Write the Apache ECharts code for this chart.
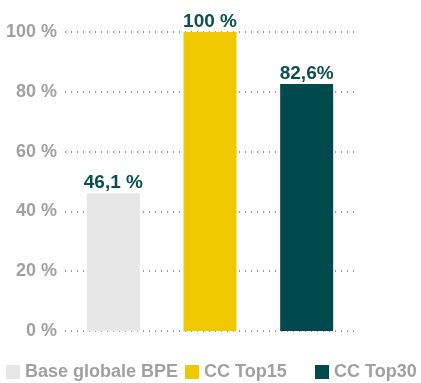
<!DOCTYPE html>
<html><head><meta charset="utf-8">
<script src="https://cdn.jsdelivr.net/npm/echarts@6/dist/echarts.min.js"></script>
<style>html,body{margin:0;padding:0;background:#fff}#c{width:421px;height:383px}</style>
</head><body><div id="c"></div>
<script>
var categories = ['Base globale BPE', 'CC Top15', 'CC Top30'];
var values = [46.1, 100, 82.6];
var labels = ['46,1 %', '100 %', '82,6%'];
var colors = ['#e6e6e6', '#f0c800', '#004a4d'];
var yTicks = [0, 20, 40, 60, 80, 100];

var series = categories.map(function (name, i) {
  var d = categories.map(function (_, j) { return j === i ? values[i] : '-'; });
  return {
    name: name, type: 'bar', data: d, barWidth: 53, barGap: '-100%',
    itemStyle: { color: colors[i] },
    label: {
      show: true, position: 'top', distance: 1,
      formatter: function () { return labels[i]; },
      color: '#0b4f50', fontFamily: 'Liberation Sans', fontWeight: 'bold', fontSize: 19
    }
  };
});

var legendLefts = [1, 180, 310];
var legends = categories.map(function (name, i) {
  return {
    top: 358, left: legendLefts[i], itemWidth: 14, itemHeight: 14, icon: 'rect',
    selectedMode: false,
    textStyle: { color: '#a0a0a0', fontFamily: 'Liberation Sans', fontWeight: 'bold', fontSize: 18 },
    data: [name]
  };
});

var chart = echarts.init(document.getElementById('c'));
chart.setOption({
  animation: false,
  grid: { left: 65, right: 66, top: 32, bottom: 52, containLabel: false },
  legend: legends,
  xAxis: {
    type: 'category', data: categories,
    axisLine: { show: false }, axisTick: { show: false }, axisLabel: { show: false }
  },
  yAxis: {
    type: 'value', min: 0, max: 100, interval: 20,
    axisLine: { show: false }, axisTick: { show: false },
    axisLabel: {
      margin: 8, color: '#a0a0a0', fontFamily: 'Liberation Sans', fontWeight: 'bold', fontSize: 18,
      formatter: function (v) { return yTicks.indexOf(v) >= 0 ? v + ' %' : ''; }
    },
    splitLine: { lineStyle: { color: '#777', type: [1, 5], width: 1.5 } }
  },
  series: series
});
</script></body></html>
